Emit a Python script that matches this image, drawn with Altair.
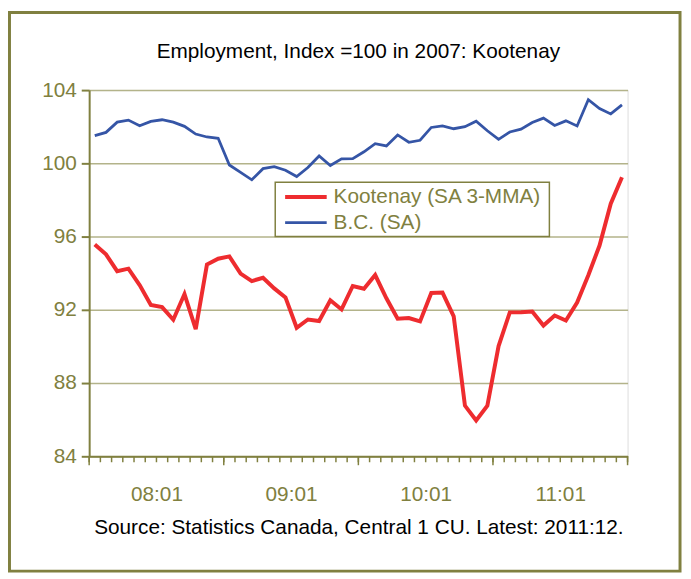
import altair as alt
import pandas as pd

# ---- data (monthly, 2008:01 .. 2011:12) ----
kootenay = [95.57, 95.03, 94.11, 94.25, 93.35, 92.27, 92.15, 91.46, 92.86, 90.95, 94.47, 94.79,
            94.92, 93.98, 93.57, 93.75, 93.17, 92.68, 91.02, 91.47, 91.39, 92.52, 92.02, 93.30,
            93.15, 93.90, 92.63, 91.51, 91.55, 91.37, 92.92, 92.94, 91.64, 86.77, 85.96, 86.77,
            90.02, 91.86, 91.87, 91.91, 91.14, 91.69, 91.42, 92.40, 93.89, 95.51, 97.80, 99.24]
bc = [101.51, 101.69, 102.25, 102.36, 102.05, 102.29, 102.38, 102.25, 102.02, 101.60, 101.44, 101.37,
      99.91, 99.51, 99.10, 99.71, 99.82, 99.62, 99.28, 99.77, 100.40, 99.88, 100.25, 100.26,
      100.63, 101.07, 100.95, 101.55, 101.15, 101.26, 101.96, 102.04, 101.89, 102.00, 102.30, 101.78,
      101.31, 101.71, 101.87, 102.23, 102.47, 102.07, 102.32, 102.04, 103.48, 102.99, 102.70, 103.19]
series_names = ["Kootenay (SA 3-MMA)", "B.C. (SA)"]
year_labels = ["08:01", "09:01", "10:01", "11:01"]
y_ticks = [84, 88, 92, 96, 100, 104]
title_text = "Employment, Index =100 in 2007: Kootenay"
source_text = "Source: Statistics Canada, Central 1 CU. Latest: 2011:12."

n = len(kootenay)
rows = []
for i in range(n):
    rows.append({"m": i + 0.5, "value": kootenay[i], "series": series_names[0]})
    rows.append({"m": i + 0.5, "value": bc[i], "series": series_names[1]})
df = pd.DataFrame(rows)

minor_df = pd.DataFrame({"b": list(range(n + 1))})
major_df = pd.DataFrame({"b": list(range(0, n + 1, 12))})
one = pd.DataFrame({"k": [0]})

OLIVE = "#808040"
GRID = "#B3B38A"
RED = "#EE2C2F"
BLUE = "#3555A6"
FONT = "Liberation Sans"
FS = 21

W, H = 544, 370

x_scale = alt.Scale(domain=[0, n], nice=False, zero=False)
y_scale = alt.Scale(domain=[84, 104], nice=False, zero=False)
color_scale = alt.Scale(domain=series_names, range=[RED, BLUE])

label_expr = "[" + ",".join(f"'{s}'" for s in year_labels) + "][floor(datum.value/12)]"

lines = alt.Chart(df).mark_line(strokeJoin="miter").encode(
    x=alt.X("m:Q", scale=x_scale,
            axis=alt.Axis(values=[6, 18, 30, 42], labelExpr=label_expr, ticks=False,
                          grid=False, domainColor=OLIVE, domainWidth=2,
                          labelColor=OLIVE, labelFontSize=FS, labelFont=FONT, labelPadding=28,
                          title=source_text,
                          titleFont=FONT, titleFontSize=FS, titleFontWeight="normal",
                          titleColor="black", titlePadding=12)),
    y=alt.Y("value:Q", scale=y_scale,
            axis=alt.Axis(values=y_ticks, grid=True, gridColor=GRID, gridWidth=1.5,
                          domainColor=OLIVE, domainWidth=2, tickColor=OLIVE, tickWidth=2,
                          tickSize=8, labelColor=OLIVE, labelFontSize=FS, labelFont=FONT,
                          labelPadding=5, title=None)),
    color=alt.Color("series:N", scale=color_scale, legend=None),
    strokeWidth=alt.StrokeWidth("series:N",
                                scale=alt.Scale(domain=series_names, range=[4, 2.8]),
                                legend=None),
)

minor_ticks = alt.Chart(minor_df).mark_rule(color=OLIVE, strokeWidth=1.5).encode(
    x=alt.X("b:Q", scale=x_scale), y=alt.value(H), y2=alt.value(H + 6))
major_ticks = alt.Chart(major_df).mark_rule(color=OLIVE, strokeWidth=1.5).encode(
    x=alt.X("b:Q", scale=x_scale), y=alt.value(H), y2=alt.value(H + 9))

# legend (drawn by hand to match the boxed Excel-style legend)
leg_box = alt.Chart(one).mark_rect(fill="white", stroke=OLIVE, strokeWidth=1.5).encode(
    x=alt.value(188), x2=alt.value(465), y=alt.value(93), y2=alt.value(148))
leg_red = alt.Chart(one).mark_rule(color=RED, strokeWidth=4).encode(
    x=alt.value(198), x2=alt.value(240), y=alt.value(108))
leg_blue = alt.Chart(one).mark_rule(color=BLUE, strokeWidth=2.8).encode(
    x=alt.value(198), x2=alt.value(240), y=alt.value(134))
leg_t1 = alt.Chart(one).mark_text(font=FONT, fontSize=FS, color=OLIVE, align="left",
                                  baseline="middle").encode(
    x=alt.value(247), y=alt.value(108), text=alt.value(series_names[0]))
leg_t2 = alt.Chart(one).mark_text(font=FONT, fontSize=FS, color=OLIVE, align="left",
                                  baseline="middle").encode(
    x=alt.value(247), y=alt.value(134), text=alt.value(series_names[1]))

title = alt.Chart(one).mark_text(font=FONT, fontSize=FS, color="black", align="center",
                                 baseline="middle").encode(
    x=alt.value(W / 2), y=alt.value(-38), text=alt.value(title_text))

border = alt.Chart(one).mark_rect(
    fill="transparent", stroke=OLIVE, strokeWidth=3).encode(
    x=alt.value(-80.5), x2=alt.value(597), y=alt.value(-78.5), y2=alt.value(486))

chart = alt.layer(lines, minor_ticks, major_ticks, leg_box, leg_red, leg_blue,
                  leg_t1, leg_t2, title, border).properties(
    width=W, height=H,
    autosize=alt.AutoSizeParams(type="none"),
    padding={"left": 82, "top": 80, "right": 56, "bottom": 119},
).configure_view(stroke=OLIVE, strokeWidth=2).configure(background="white")

chart.save("out.html", embed_options={"renderer": "svg", "actions": False})
